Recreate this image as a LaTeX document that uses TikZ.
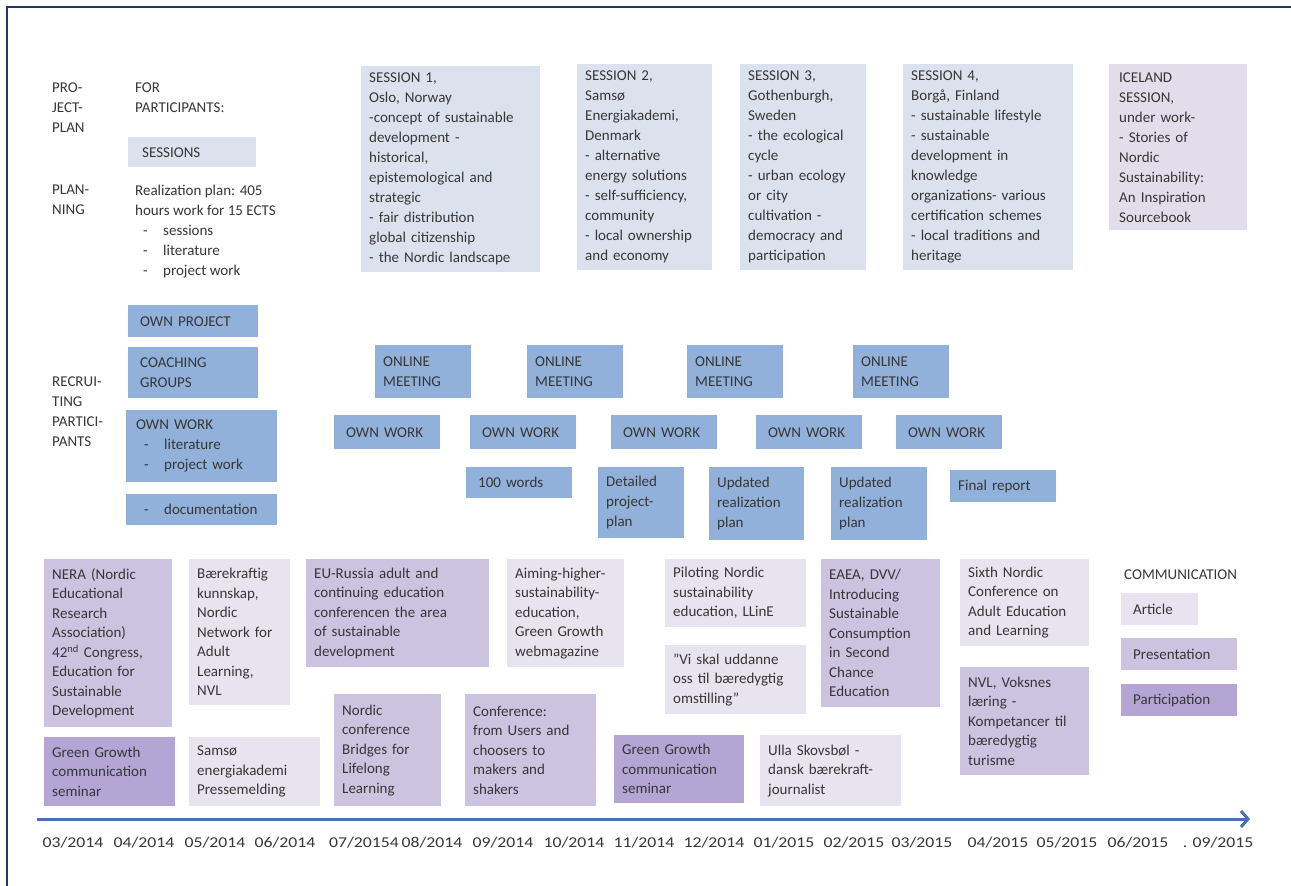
\documentclass[tikz,border=0pt]{standalone}
\usepackage{fontspec}
\setmainfont{Carlito}
\newfontfamily\datefont{Carlito}[FakeStretch=1.18]
\usetikzlibrary{arrows.meta}
\definecolor{textc}{RGB}{55,55,55}
\definecolor{framec}{RGB}{31,56,100}
\definecolor{arrowc}{RGB}{74,111,179}
\definecolor{sessc}{RGB}{219,226,238}
\definecolor{icec}{RGB}{226,221,234}
\definecolor{medblue}{RGB}{145,176,218}
\definecolor{lightlav}{RGB}{231,227,239}
\definecolor{medlav}{RGB}{204,195,225}
\definecolor{darklav}{RGB}{180,165,213}
\newcommand\myitem[1]{\hspace*{8pt}\makebox[20pt][l]{-}#1}
\tikzset{
  wh/.code 2 args={\pgfmathsetmacro\mytw{#1-2*(\pgfkeysvalueof{/pgf/inner xsep})}\edef\mytmp{\noexpand\tikzset{minimum width=#1pt,minimum height=#2pt,text width=\mytw pt}}\mytmp},
  base/.style={font=\fontsize{15}{20}\selectfont, text=textc, anchor=north west, align=left},
  lbl/.style={base, inner sep=0pt},
  boxb/.style={base, inner xsep=8pt, inner ysep=0pt},
  sess/.style={boxb, fill=sessc},
  ice/.style={boxb, fill=icec},
  mblue/.style={boxb, fill=medblue},
  llav/.style={boxb, fill=lightlav, font=\fontsize{15}{19.5}\selectfont},
  mlav/.style={boxb, fill=medlav, font=\fontsize{15}{19.5}\selectfont},
  dlav/.style={boxb, fill=darklav, font=\fontsize{15}{19.5}\selectfont},
  datelbl/.style={font=\datefont\fontsize{15}{18}\selectfont, text=textc, inner sep=0pt},
  timeline/.style={draw=arrowc, line width=3pt, -{Straight Barb[length=7pt,width=16pt]}},
  frameline/.style={draw=framec, line width=2.5pt}
}
\begin{document}
\begin{tikzpicture}[x=1pt,y=-1pt]
\useasboundingbox[fill=white] (0,0) rectangle (1291,886);
\draw[frameline] (7,886) -- (7,7) -- (1291,7);

% header labels
\node[lbl] (pp) at (52,83) {PRO-\\JECT-\\PLAN};
\node[lbl] (forp) at (135,83) {FOR\\PARTICIPANTS:};
\node[sess, inner xsep=14pt, wh={128}{30}] (sessions) at (128,137) {SESSIONS};
\node[lbl] (plan) at (52,185) {PLAN-\\NING};
\node[lbl] (real) at (135,185) {Realization plan: 405\\hours work for 15 ECTS\\\myitem{sessions}\\\myitem{literature}\\\myitem{project work}};
\node[lbl] (recr) at (52,377) {RECRUI-\\TING\\PARTICI-\\PANTS};

% sessions
\node[sess, wh={179}{206}] (s1) at (361,66) {SESSION 1,\\Oslo, Norway\\-concept of sustainable\\development -\\historical,\\epistemological and\\strategic\\- fair distribution\\global citizenship\\- the Nordic landscape};
\node[sess, wh={135}{206}] (s2) at (577,64) {SESSION 2,\\Samsø\\Energiakademi,\\Denmark\\- alternative\\energy solutions\\- self-sufficiency,\\community\\- local ownership\\and economy};
\node[sess, wh={126}{206}] (s3) at (740,64) {SESSION 3,\\Gothenburgh,\\Sweden\\- the ecological\\cycle\\- urban ecology\\or city\\cultivation -\\democracy and\\participation};
\node[sess, wh={170}{206}] (s4) at (903,64) {SESSION 4,\\Borgå, Finland\\- sustainable lifestyle\\- sustainable\\development in\\knowledge\\organizations- various\\certification schemes\\- local traditions and\\heritage};
\node[ice, inner xsep=10pt, wh={138}{166}] (ice) at (1109,64) {ICELAND\\SESSION,\\under work-\\- Stories of\\Nordic\\Sustainability:\\An Inspiration\\Sourcebook};

% participant work
\node[mblue, inner xsep=12pt, wh={130}{32}] (ownproj) at (128,305) {OWN PROJECT};
\node[mblue, inner xsep=12pt, wh={130}{51}] (coach) at (128,347) {COACHING\\GROUPS};
\node[mblue, inner xsep=10pt, wh={151}{72}] (ownworkl) at (126,410) {OWN WORK\\\myitem{literature}\\\myitem{project work}};
\node[mblue, inner xsep=10pt, wh={151}{31}] (doc) at (126,494) {\myitem{documentation}};

\node[mblue, wh={96}{53}] (om1) at (375,345) {ONLINE\\MEETING};
\node[mblue, wh={96}{53}] (om2) at (527,345) {ONLINE\\MEETING};
\node[mblue, wh={96}{53}] (om3) at (687,345) {ONLINE\\MEETING};
\node[mblue, wh={96}{53}] (om4) at (853,345) {ONLINE\\MEETING};

\node[mblue, inner xsep=12pt, wh={106}{34}] (ow1) at (334,415) {OWN WORK};
\node[mblue, inner xsep=12pt, wh={106}{34}] (ow2) at (470,415) {OWN WORK};
\node[mblue, inner xsep=12pt, wh={106}{34}] (ow3) at (611,415) {OWN WORK};
\node[mblue, inner xsep=12pt, wh={106}{34}] (ow4) at (756,415) {OWN WORK};
\node[mblue, inner xsep=12pt, wh={106}{34}] (ow5) at (896,415) {OWN WORK};

\node[mblue, inner xsep=12pt, wh={106}{31}] (words) at (466,467) {100 words};
\node[mblue, wh={86}{71}] (detail) at (598,467) {Detailed\\project-\\plan};
\node[mblue, wh={95}{73}] (upd1) at (709,467) {Updated\\realization\\plan};
\node[mblue, wh={96}{73}] (upd2) at (831,467) {Updated\\realization\\plan};
\node[mblue, wh={106}{32}] (final) at (950,470) {Final report};

% communication
\node[mlav, wh={128}{168}] (nera) at (44,559) {NERA (Nordic\\Educational\\Research\\Association)\\42\textsuperscript{nd} Congress,\\Education for\\Sustainable\\Development};
\node[llav, wh={101}{146}] (baer) at (189,559) {Bærekraftig\\kunnskap,\\Nordic\\Network for\\Adult\\Learning,\\NVL};
\node[mlav, wh={183}{108}] (eur) at (306,559) {EU-Russia adult and\\continuing education\\conferencen the area\\of sustainable\\development};
\node[llav, wh={117}{108}] (aim) at (507,559) {Aiming-higher-\\sustainability-\\education,\\Green Growth\\webmagazine};
\node[llav, wh={141}{68}] (pilot) at (665,559) {Piloting Nordic\\sustainability\\education, LLinE};
\node[llav, wh={141}{69}] (vi) at (665,645) {\symbol{34}Vi skal uddanne\\oss til bæredygtig\\omstilling\symbol{34}};
\node[mlav, wh={119}{148}] (eaea) at (821,559) {EAEA, DVV/\\Introducing\\Sustainable\\Consumption\\in Second\\Chance\\Education};
\node[llav, wh={129}{87}] (sixth) at (960,559) {Sixth Nordic\\Conference on\\Adult Education\\and Learning};
\node[mlav, wh={129}{108}] (nvl) at (960,667) {NVL, Voksnes\\læring -\\Kompetancer til\\bæredygtig\\turisme};

\node[lbl] (comm) at (1124,570) {COMMUNICATION};
\node[llav, inner xsep=12pt, wh={77}{32}] (article) at (1121,593) {Article};
\node[mlav, inner xsep=12pt, wh={116}{32}] (pres) at (1121,638) {Presentation};
\node[dlav, inner xsep=12pt, wh={116}{32}] (part) at (1121,684) {Participation};

\node[dlav, wh={131}{69}] (gg1) at (44,737) {Green Growth\\communication\\seminar};
\node[llav, wh={131}{69}] (sams) at (189,737) {Samsø\\energiakademi\\Pressemelding};
\node[mlav, wh={107}{112}] (bridge) at (334,694) {Nordic\\conference\\Bridges for\\Lifelong\\Learning};
\node[mlav, wh={131}{112}] (conf) at (465,694) {Conference:\\from Users and\\choosers to\\makers and\\shakers};
\node[dlav, wh={130}{68}] (gg2) at (614,735) {Green Growth\\communication\\seminar};
\node[llav, wh={141}{71}] (ulla) at (760,735) {Ulla Skovsbøl -\\dansk bærekraft-\\journalist};

% timeline
\coordinate (ts) at (37,819);
\coordinate (te) at (1250,819);
\draw[timeline] (ts) -- (te);
\node[datelbl] (d1) at (73,843) {03/2014};
\node[datelbl] (d2) at (144,843) {04/2014};
\node[datelbl] (d3) at (215,843) {05/2014};
\node[datelbl] (d4) at (285,843) {06/2014};
\node[datelbl] (d5) at (364,843) {07/20154};
\node[datelbl] (d6) at (432,843) {08/2014};
\node[datelbl] (d7) at (503,843) {09/2014};
\node[datelbl] (d8) at (574,843) {10/2014};
\node[datelbl] (d9) at (644,843) {11/2014};
\node[datelbl] (d10) at (714,843) {12/2014};
\node[datelbl] (d11) at (784,843) {01/2015};
\node[datelbl] (d12) at (854,843) {02/2015};
\node[datelbl] (d13) at (922,843) {03/2015};
\node[datelbl] (d14) at (998,843) {04/2015};
\node[datelbl] (d15) at (1067,843) {05/2015};
\node[datelbl] (d16) at (1138,843) {06/2015};
\node[datelbl] (d17) at (1218,843) {. 09/2015};
\end{tikzpicture}
\end{document}
